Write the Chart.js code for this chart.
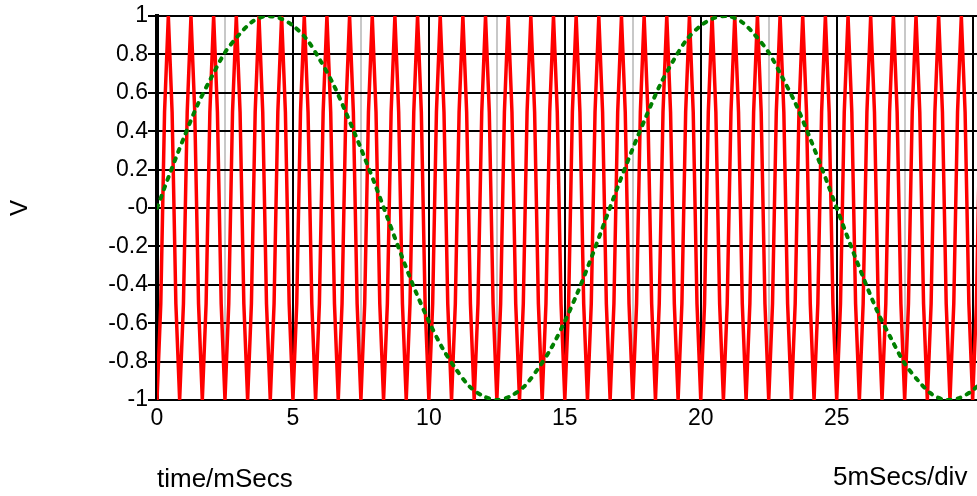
<!DOCTYPE html>
<html>
<head>
<meta charset="utf-8">
<script src="https://cdn.jsdelivr.net/npm/chart.js@4"></script>
<style>
  html, body { margin: 0; padding: 0; background: #fff; }
  #chart { display: block; }
</style>
</head>
<body>
<canvas id="chart" width="977" height="496"></canvas>
<script>
const redStepMs = 1 / 7.2;   // 6 samples per 1.2 kHz cycle
const redValues = [
  -1, -0.5, 0.5, 1, 0.5, -0.5, -1, -0.5, 0.5, 1, 0.5, -0.5,
  -1, -0.5, 0.5, 1, 0.5, -0.5, -1, -0.5, 0.5, 1, 0.5, -0.5,
  -1, -0.5, 0.5, 1, 0.5, -0.5, -1, -0.5, 0.5, 1, 0.5, -0.5,
  -1, -0.5, 0.5, 1, 0.5, -0.5, -1, -0.5, 0.5, 1, 0.5, -0.5,
  -1, -0.5, 0.5, 1, 0.5, -0.5, -1, -0.5, 0.5, 1, 0.5, -0.5,
  -1, -0.5, 0.5, 1, 0.5, -0.5, -1, -0.5, 0.5, 1, 0.5, -0.5,
  -1, -0.5, 0.5, 1, 0.5, -0.5, -1, -0.5, 0.5, 1, 0.5, -0.5,
  -1, -0.5, 0.5, 1, 0.5, -0.5, -1, -0.5, 0.5, 1, 0.5, -0.5,
  -1, -0.5, 0.5, 1, 0.5, -0.5, -1, -0.5, 0.5, 1, 0.5, -0.5,
  -1, -0.5, 0.5, 1, 0.5, -0.5, -1, -0.5, 0.5, 1, 0.5, -0.5,
  -1, -0.5, 0.5, 1, 0.5, -0.5, -1, -0.5, 0.5, 1, 0.5, -0.5,
  -1, -0.5, 0.5, 1, 0.5, -0.5, -1, -0.5, 0.5, 1, 0.5, -0.5,
  -1, -0.5, 0.5, 1, 0.5, -0.5, -1, -0.5, 0.5, 1, 0.5, -0.5,
  -1, -0.5, 0.5, 1, 0.5, -0.5, -1, -0.5, 0.5, 1, 0.5, -0.5,
  -1, -0.5, 0.5, 1, 0.5, -0.5, -1, -0.5, 0.5, 1, 0.5, -0.5,
  -1, -0.5, 0.5, 1, 0.5, -0.5, -1, -0.5, 0.5, 1, 0.5, -0.5,
  -1, -0.5, 0.5, 1, 0.5, -0.5, -1, -0.5, 0.5, 1, 0.5, -0.5,
  -1, -0.5, 0.5, 1, 0.5, -0.5, -1, -0.5, 0.5, 1, 0.5, -0.5,
  -1, -0.5, 0.5, 1
];

const greenStepMs = 0.5;
const greenValues = [
  0, 0.19, 0.37, 0.54, 0.68, 0.81, 0.90, 0.97, 1.00, 0.99,
  0.95, 0.88, 0.77, 0.64, 0.48, 0.31, 0.13, -0.06, -0.25, -0.43,
  -0.59, -0.73, -0.84, -0.93, -0.98, -1.00, -0.98, -0.93, -0.84, -0.73,
  -0.59, -0.43, -0.25, -0.06, 0.13, 0.31, 0.48, 0.64, 0.77, 0.88,
  0.95, 0.99, 1.00, 0.97, 0.90, 0.81, 0.68, 0.54, 0.37, 0.19,
  0, -0.19, -0.37, -0.54, -0.68, -0.81, -0.90, -0.97, -1.00, -0.99,
  -0.95, -0.88
];

const xMin = 0;
const xMax = 30.16;
const xMajorStep = 5;
const xMinorStep = 2.5;
const xLastLabel = 25;
const yMin = -1;
const yMax = 1;
const yStep = 0.2;

const yTitle = 'V';
const xTitle = 'time/mSecs';
const divLabel = '5mSecs/div';

const FONT = "'Liberation Sans', Arial, sans-serif";

function toPoints(values, step) {
  return values.map((v, i) => ({ x: i * step, y: v }));
}

function isMajor(v) {
  return Math.abs(v / xMajorStep - Math.round(v / xMajorStep)) < 1e-6;
}

const divLabelPlugin = {
  id: 'divLabel',
  afterDraw(chart) {
    const ctx = chart.ctx;
    ctx.save();
    ctx.font = '26px ' + FONT;
    ctx.fillStyle = '#000';
    ctx.textAlign = 'left';
    ctx.textBaseline = 'middle';
    ctx.fillText(divLabel, chart.chartArea.right - 144, 478);
    ctx.restore();
  }
};

Chart.defaults.font.family = FONT;
Chart.defaults.color = '#000';

const ctx = document.getElementById('chart');
new Chart(ctx, {
  type: 'line',
  data: {
    datasets: [
      {
        label: '60 Hz',
        data: toPoints(greenValues, greenStepMs),
        borderColor: '#008000',
        borderWidth: 4,
        borderDash: [3, 7],
        borderCapStyle: 'round',
        pointRadius: 0,
        tension: 0.3,
        order: 0
      },
      {
        label: '1.2 kHz',
        data: toPoints(redValues, redStepMs),
        borderColor: '#ff0000',
        borderWidth: 3.5,
        pointRadius: 0,
        tension: 0,
        order: 1
      }
    ]
  },
  options: {
    responsive: false,
    animation: false,
    devicePixelRatio: 1,
    layout: { padding: { top: 16, right: 0, left: 0, bottom: 0 } },
    plugins: {
      legend: { display: false },
      tooltip: { enabled: false }
    },
    scales: {
      x: {
        type: 'linear',
        min: xMin,
        max: xMax,
        afterFit(scale) { scale.height = 96; scale.paddingRight = 0; },
        border: { display: true, color: '#000', width: 2 },
        grid: {
          color: c => isMajor(c.tick.value) ? '#000' : '#c8c8c8',
          lineWidth: 2,
          drawTicks: false
        },
        ticks: {
          stepSize: xMinorStep,
          includeBounds: false,
          autoSkip: false,
          maxRotation: 0,
          padding: 5,
          font: { size: 23 },
          callback: v => (isMajor(v) && v <= xLastLabel) ? String(Math.round(v)) : ''
        },
        title: {
          display: true,
          text: xTitle,
          align: 'start',
          font: { size: 26 },
          padding: { top: 0, bottom: 1 }
        }
      },
      y: {
        min: yMin,
        max: yMax,
        afterFit(scale) { scale.width = 157; },
        border: { display: true, color: '#000', width: 4 },
        grid: {
          color: '#000',
          lineWidth: 2,
          drawTicks: true,
          tickLength: 9,
          tickColor: '#000'
        },
        ticks: {
          stepSize: yStep,
          padding: 0,
          font: { size: 23 },
          callback: v => {
            const r = Math.round(v * 10) / 10;
            return r === 0 ? '-0' : String(r);
          }
        },
        title: {
          display: true,
          text: yTitle,
          font: { size: 24 },
          padding: { top: 6, bottom: 0 }
        }
      }
    }
  },
  plugins: [divLabelPlugin]
});
</script>
</body>
</html>
